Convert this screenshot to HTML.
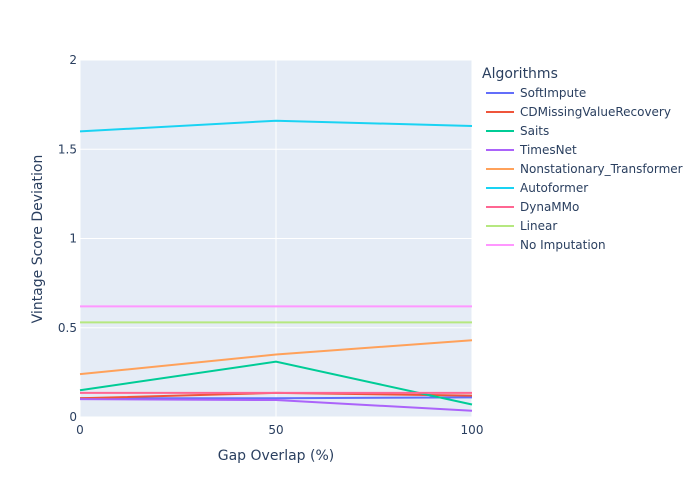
<!DOCTYPE html>
<html><head><meta charset="utf-8"><style>
body{margin:0;background:#fff;font-family:"DejaVu Sans","Liberation Sans",sans-serif;}
svg text{font-family:"DejaVu Sans","Liberation Sans",sans-serif;fill:#2a3f5f;}
</style></head><body>
<svg id="c" width="700" height="500"></svg>
<script>
const categories=[0,50,100];
const names=["SoftImpute","CDMissingValueRecovery","Saits","TimesNet","Nonstationary_Transformer","Autoformer","DynaMMo","Linear","No Imputation"];
const colors=["#636efa","#EF553B","#00cc96","#ab63fa","#FFA15A","#19d3f3","#FF6692","#B6E880","#FF97FF"];
const softImpute=[0.105,0.105,0.11];
const cdMissing=[0.105,0.135,0.12];
const saits=[0.15,0.31,0.07];
const timesNet=[0.1,0.095,0.035];
const nonstationary=[0.24,0.35,0.43];
const autoformer=[1.6,1.66,1.63];
const dynammo=[0.135,0.135,0.135];
const linear=[0.53,0.53,0.53];
const noImputation=[0.62,0.62,0.62];
const series=[softImpute,cdMissing,saits,timesNet,nonstationary,autoformer,dynammo,linear,noImputation];
const yTicks=[0,0.5,1,1.5,2];
const yTickLabels=["0","0.5","1","1.5","2"];
const xTicks=[0,50,100];
const NS="http://www.w3.org/2000/svg";
const svg=document.getElementById('c');
const L=80,R=472,T=60,B=417;
const xs=v=>L+(v-0)/(100)*(R-L);
const ys=v=>B-(v/2)*(B-T);
function mk(t,a,p){const e=document.createElementNS(NS,t);for(const k in a)e.setAttribute(k,a[k]);(p||svg).appendChild(e);return e;}
let bg=mk('rect',{x:L,y:T,width:R-L,height:B-T,fill:'#e5ecf6'});


yTicks.forEach((v,i)=>{
 let g=mk('line',{x1:L,x2:R,y1:ys(v),y2:ys(v),stroke:'#fff','stroke-width':1});
 
 
 let t=mk('text',{x:L-3,y:ys(v)+4,'text-anchor':'end','font-size':12});t.textContent=yTickLabels[i];
 
 
});
xTicks.forEach(v=>{
 let g=mk('line',{x1:xs(v),x2:xs(v),y1:T,y2:B,stroke:'#fff','stroke-width':1});
 
 
 let t=mk('text',{x:xs(v),y:B+17,'text-anchor':'middle','font-size':12});t.textContent=v;
 
 
});
series.forEach((s,i)=>{
 let p=mk('polyline',{points:s.map((v,j)=>xs(categories[j])+','+ys(v)).join(' '),fill:'none',stroke:colors[i],'stroke-width':2});
 
 
});
let xt=mk('text',{x:276,y:460,'text-anchor':'middle','font-size':14});xt.textContent='Gap Overlap (%)';


let yt=mk('text',{x:42,y:239,'text-anchor':'middle','font-size':14,transform:'rotate(-90 42 239)'});yt.textContent='Vintage Score Deviation';


let lt=mk('text',{x:482,y:78,'font-size':14});lt.textContent='Algorithms';


names.forEach((n,i)=>{
 const y=93+i*19;
 let g=mk('g',{});
 
 
 mk('line',{x1:486,x2:514,y1:y,y2:y,stroke:colors[i],'stroke-width':2},g);
 let t=mk('text',{x:520,y:y+4,'font-size':12},g);t.textContent=n;
});
</script>
</body></html>
